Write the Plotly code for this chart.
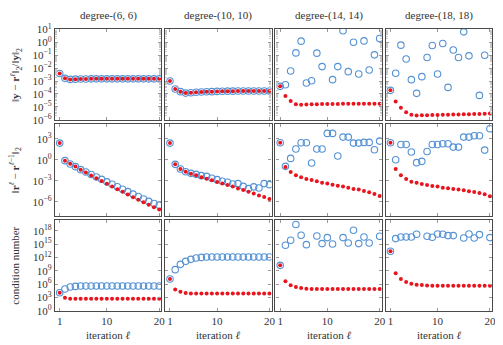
import plotly.graph_objects as go
from plotly.subplots import make_subplots

# iterations on the x axis, one column per polynomial degree
iterations = list(range(1, 21))
degree_labels = ["degree-(6, 6)", "degree-(10, 10)", "degree-(14, 14)", "degree-(18, 18)"]
xtick_vals = [1, 10, 20]

# values, stored as log10 exponents
# row 1: relative error ||y - r^l||_2 / ||y||_2
relerr_open = [
    [-2.42, -2.79, -2.87, -2.85, -2.84, -2.84, -2.83, -2.83, -2.83, -2.83,
     -2.83, -2.83, -2.83, -2.83, -2.83, -2.83, -2.83, -2.83, -2.83, -2.83],
    [-3.0, -3.62, -3.82, -3.93, -3.9, -3.87, -3.85, -3.83, -3.82, -3.8,
     -3.79, -3.78, -3.78, -3.77, -3.77, -3.77, -3.77, -3.77, -3.77, -3.77],
    [-3.41, -3.28, -2.22, -0.82, 0.09, -3.15, -2.97, -0.84, -1.88, None,
     -2.89, -1.88, 0.89, -2.27, 0.01, -2.45, 0.11, -2.14, -0.97, 0.30],
    [-3.72, -2.40, -0.22, -1.29, -2.89, -3.95, -2.66, -1.18, -0.25, -2.45,
     -0.09, -3.49, -0.59, -1.18, 0.81, -1.05, None, -4.11, -1.0, None],
]
relerr_filled = [
    [-2.42, -2.79, -2.87, -2.85, -2.84, -2.84, -2.83, -2.83, -2.83, -2.83,
     -2.83, -2.83, -2.83, -2.83, -2.83, -2.83, -2.83, -2.83, -2.83, -2.83],
    [-3.0, -3.62, -3.82, -3.93, -3.9, -3.87, -3.85, -3.83, -3.82, -3.8,
     -3.79, -3.78, -3.78, -3.77, -3.77, -3.77, -3.77, -3.77, -3.77, -3.77],
    [-3.41, -4.16, -4.55, -4.79, -4.83, -4.81, -4.80, -4.79, -4.78, -4.78,
     -4.77, -4.77, -4.76, -4.76, -4.76, -4.75, -4.75, -4.75, -4.75, -4.75],
    [-3.72, -4.58, -5.07, -5.41, -5.61, -5.66, -5.65, -5.64, -5.63, -5.62,
     -5.61, -5.60, -5.59, -5.58, -5.57, -5.56, -5.55, -5.54, -5.53, -5.52],
]

# row 2: step size ||r^l - r^(l-1)||_2
step_open = [
    [2.4, -0.11, -0.6, -0.97, -1.4, -1.74, -2.1, -2.45, -2.79, -3.15,
     -3.5, -3.85, -4.2, -4.55, -4.9, -5.25, -5.6, -5.95, -6.25, -6.5],
    [2.4, -0.64, -1.31, -1.69, -1.93, -2.07, -2.26, -2.36, -2.64, -2.83,
     -3.07, -3.21, -3.45, -3.40, -3.79, -4.12, -3.86, -4.02, -3.40, -3.55],
    [2.45, -0.93, 0.21, 1.55, 2.45, 2.45, -0.45, 1.55, 1.55, 3.79,
     3.79, 0.55, 3.26, 3.26, 2.4, 2.4, 2.5, 2.5, 1.45, 2.69],
    [2.45, 0.02, 2.21, 2.21, 1.12, -0.4, -0.21, 1.21, 2.21, 2.21,
     2.31, 2.31, 1.83, 1.83, 3.26, 3.26, 3.45, 3.45, 1.4, 4.45],
]
step_filled = [
    [2.4, -0.11, -0.56, -0.95, -1.42, -1.82, -2.22, -2.62, -3.02, -3.42,
     -3.82, -4.2, -4.58, -4.96, -5.34, -5.72, -6.08, -6.44, -6.8, -7.12],
    [2.4, -0.64, -1.31, -1.69, -1.97, -2.21, -2.5, -2.69, -2.93, -3.18,
     -3.4, -3.6, -3.83, -4.1, -4.33, -4.57, -4.8, -5.1, -5.33, -5.6],
    [2.45, -1.02, -1.74, -2.21, -2.5, -2.74, -2.88, -3.07, -3.26, -3.4,
     -3.55, -3.69, -3.83, -3.98, -4.17, -4.26, -4.45, -4.64, -4.88, -5.17],
    [2.45, -1.31, -2.21, -2.74, -3.12, -3.26, -3.45, -3.6, -3.74, -3.83,
     -3.98, -4.07, -4.17, -4.26, -4.36, -4.5, -4.6, -4.74, -4.93, -5.21],
]

# row 3: condition number
cond_open = [
    [4.09, 4.9, 5.35, 5.5, 5.58, 5.58, 5.58, 5.58, 5.58, 5.58,
     5.58, 5.58, 5.58, 5.58, 5.58, 5.58, 5.58, 5.58, 5.58, 5.58],
    [7.15, 9.26, 10.45, 11.12, 11.57, 11.87, 12.0, 12.1, 12.1, 12.1,
     12.1, 12.1, 12.1, 12.1, 12.1, 12.1, 12.1, 12.1, 12.1, 12.1],
    [10.22, 14.72, 15.84, 19.37, 16.97, 14.87, None, 16.8, 15.1, 16.45,
     15.0, None, 16.45, 15.24, 18.09, 15.1, 16.58, 15.24, None, 16.74],
    [13.37, 16.22, 16.58, 16.58, 16.58, 17.19, None, 16.74, 16.52, 17.27,
     17.19, 16.9, 16.9, None, 16.37, 17.27, 16.37, 17.12, None, 16.45],
]
cond_filled = [
    [4.09, 2.97, 2.74, 2.74, 2.74, 2.74, 2.74, 2.74, 2.74, 2.74,
     2.74, 2.74, 2.74, 2.74, 2.74, 2.74, 2.74, 2.74, 2.74, 2.74],
    [7.15, 4.83, 4.31, 4.0, 3.93, 3.9, 3.9, 3.9, 3.9, 3.9,
     3.9, 3.9, 3.9, 3.9, 3.9, 3.9, 3.9, 3.9, 3.9, 3.9],
    [10.22, 6.63, 5.73, 5.36, 5.13, 4.98, 4.93, 4.9, 4.9, 4.9,
     4.9, 4.9, 4.9, 4.9, 4.9, 4.9, 4.9, 4.9, 4.9, 4.9],
    [13.37, 8.43, 7.15, 6.48, 6.1, 5.88, 5.81, 5.7, 5.66, 5.66,
     5.66, 5.66, 5.66, 5.66, 5.66, 5.66, 5.66, 5.66, 5.66, 5.66],
]

# y tick exponents per row
row_tick_exps = [list(range(-6, 2)), [-6, -3, 0, 3], [0, 3, 6, 9, 12, 15, 18]]
row_ranges = [[-6.05, 1.03], [-8.0, 5.1], [-0.02, 20.5]]
row_titles = [
    "‖<b>y</b> − <b>r</b><sup><i>ℓ</i></sup>‖<sub>2</sub>/‖<b>y</b>‖<sub>2</sub>",
    "‖<b>r</b><sup><i>ℓ</i></sup> − <b>r</b><sup><i>ℓ</i>−1</sup>‖<sub>2</sub>",
    "condition number",
]

FONT = "Liberation Serif, DejaVu Serif, serif"
BLUE = "#5592d4"
RED = "#e8141e"
FRAME = "#4a4a4a"
TICK = "#9a9a9a"
TXT = "#333"


def pow10(exps):
    return [None if e is None else 10 ** e for e in exps]


def tick_text(e):
    return "10<sup>%s</sup>" % str(e).replace("-", "−")


fig = make_subplots(rows=3, cols=4, horizontal_spacing=4 / 441,
                    vertical_spacing=3.8 / 282)

rows = [(relerr_open, relerr_filled), (step_open, step_filled), (cond_open, cond_filled)]
for r, (opn, fil) in enumerate(rows, start=1):
    for c in range(1, 5):
        fig.add_trace(go.Scatter(
            x=iterations, y=pow10(opn[c - 1]), mode="markers",
            marker=dict(symbol="circle-open", size=6.5, color=BLUE,
                        line=dict(width=1.1, color=BLUE)),
            showlegend=False), row=r, col=c)
        fig.add_trace(go.Scatter(
            x=iterations, y=pow10(fil[c - 1]), mode="markers",
            marker=dict(symbol="circle", size=4, color=RED),
            showlegend=False), row=r, col=c)

for r in range(1, 4):
    exps = row_tick_exps[r - 1]
    for c in range(1, 5):
        fig.update_yaxes(
            type="log", range=row_ranges[r - 1],
            tickvals=[10 ** e for e in exps],
            ticktext=[tick_text(e) for e in exps],
            showticklabels=(c == 1),
            ticks="inside", ticklen=3, tickcolor=TICK, tickwidth=1,
            minor=dict(ticks="inside", ticklen=2, tickcolor="#c8c8c8", dtick="D1") if r == 1 else None,
            showline=True, linecolor=FRAME, linewidth=1.3, mirror="allticks",
            showgrid=False, zeroline=False,
            tickfont=dict(family=FONT, size=11, color=TXT),
            row=r, col=c)
        fig.update_xaxes(
            range=[0.1, 20.4], tickvals=xtick_vals,
            showticklabels=(r == 3),
            ticks="inside", ticklen=3, tickcolor=TICK, tickwidth=1,
            showline=True, linecolor=FRAME, linewidth=1.3, mirror="allticks",
            showgrid=False, zeroline=False,
            tickfont=dict(family=FONT, size=11, color=TXT),
            row=r, col=c)

annotations = []
# column headers and x titles
for c in range(4):
    xd = fig.get_subplot(1, c + 1).xaxis.domain
    xc = (xd[0] + xd[1]) / 2
    annotations.append(dict(
        text=degree_labels[c], x=xc, y=1 + 14 / 282,
        xref="paper", yref="paper", xanchor="center", yanchor="middle",
        showarrow=False, font=dict(family=FONT, size=11, color=TXT)))
    annotations.append(dict(
        text="iteration <i>ℓ</i>", x=xc, y=-24 / 282,
        xref="paper", yref="paper", xanchor="center", yanchor="middle",
        showarrow=False, font=dict(family=FONT, size=11, color=TXT)))
# row titles
for r in range(3):
    yd = fig.get_subplot(r + 1, 1).yaxis.domain
    annotations.append(dict(
        text=row_titles[r], x=-40 / 441, y=(yd[0] + yd[1]) / 2,
        xref="paper", yref="paper", xanchor="center", yanchor="middle",
        textangle=-90, showarrow=False,
        font=dict(family=FONT, size=11, color=TXT)))

# the page puts the figure 8 px in from the top-left corner, so the
# figure is 8 px smaller than the window and the margins shift with it
fig.update_layout(
    width=495, height=337,
    margin=dict(l=47, r=7, t=21, b=34),
    paper_bgcolor="white", plot_bgcolor="white",
    font=dict(family=FONT, size=11, color=TXT),
    annotations=annotations,
)

fig.write_html("out.html")
